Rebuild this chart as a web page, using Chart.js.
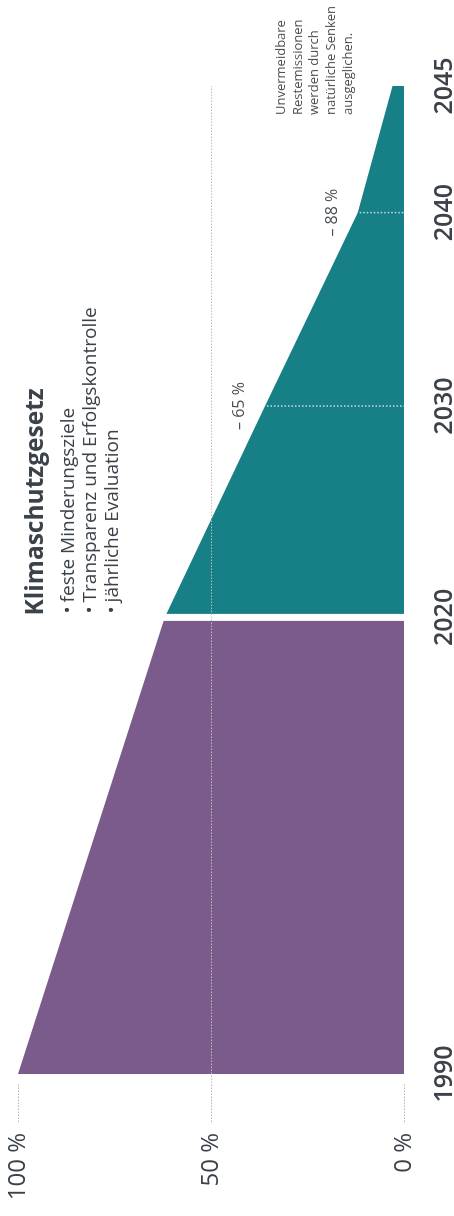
<!DOCTYPE html>
<html lang="de">
<head>
<meta charset="utf-8">
<title>Klimaschutzgesetz</title>
<script src="https://cdn.jsdelivr.net/npm/chart.js@4.4.1/dist/chart.umd.min.js"></script>
<style>
  html, body { margin: 0; padding: 0; background: #fff; overflow: hidden; }
  /* chart is drawn landscape, then turned to read bottom-to-top */
  #stage {
    position: absolute; left: 0; top: 0;
    width: 1216px; height: 454px;
    transform-origin: 0 0;
    transform: translate(0, 1216px) rotate(-90deg);
  }
</style>
</head>
<body>
<div id="stage"><canvas id="chart" width="1216" height="454"></canvas></div>
<script>
// ---- data ----
const yearTicks  = [1990, 2020, 2030, 2040, 2045];
const histYears  = [1990, 2020];
const histShare  = [100, 62];
const goalYears  = [2020, 2030, 2040, 2045];
const goalShare  = [62, 36, 12, 3];
const markYears  = [2030, 2040];
const markLabels = ['– 65 %', '– 88 %'];
const shareTicks = [0, 50, 100];

const title   = 'Klimaschutzgesetz';
const bullets = ['feste Minderungsziele', 'Transparenz und Erfolgskontrolle', 'jährliche Evaluation'];
const note    = ['Unvermeidbare', 'Restemissionen', 'werden durch', 'natürliche Senken', 'ausgeglichen.'];

// ---- layout ----
// the time axis is not to scale; fraction of plot width for each year tick
const yearStops = [0.009, 0.467, 0.679, 0.873, 1];

const PURPLE = '#7a5b8b';
const TEAL   = '#177f86';
const INK    = '#3b4249';
const FONT   = "'Open Sans', sans-serif";

Chart.defaults.font.family = FONT;
Chart.defaults.color = INK;

function warp(v) {
    for (let i = 0; i < yearTicks.length - 1; i++) {
        const a = yearTicks[i], b = yearTicks[i + 1];
        if (v <= b || i === yearTicks.length - 2) {
            return yearStops[i] + (v - a) / (b - a) * (yearStops[i + 1] - yearStops[i]);
        }
    }
}

/**
 * WarpScale
 * Linear scale with piecewise positions for the year ticks.
 */
class WarpScale extends Chart.LinearScale {
    static id = 'warp';
    getPixelForValue(value) {
        return this.getPixelForDecimal(warp(value));
    }
}
Chart.register(WarpScale);

const toPoints = (xs, ys) => xs.map((x, i) => ({ x, y: ys[i] }));

// white gap at 2020, dotted drops at the target years, texts
const decor = {
    id: 'decor',
    afterDatasetsDraw(chart) {
        const { ctx, scales: { x, y } } = chart;
        ctx.save();
        // gap between the two areas
        const gx = x.getPixelForValue(2020);
        ctx.fillStyle = '#fff';
        ctx.fillRect(gx - 3.5, chart.chartArea.top, 7, y.getPixelForValue(0) - chart.chartArea.top + 1);

        // drop lines
        ctx.strokeStyle = 'rgba(255,255,255,0.75)';
        ctx.lineWidth = 1.5;
        ctx.setLineDash([1.5, 2]);
        markYears.forEach(yr => {
            const px = x.getPixelForValue(yr);
            const i = goalYears.indexOf(yr);
            ctx.beginPath();
            ctx.moveTo(px, y.getPixelForValue(goalShare[i]) + 2);
            ctx.lineTo(px, y.getPixelForValue(0));
            ctx.stroke();
        });
        ctx.restore();
    },
    afterDraw(chart) {
        const { ctx, scales: { x, y } } = chart;
        ctx.save();
        ctx.textBaseline = 'alphabetic';

        // reduction labels above the target points
        ctx.font = '16px ' + FONT;
        ctx.textAlign = 'center';
        ctx.fillStyle = '#4a5055';
        markYears.forEach((yr, k) => {
            const i = goalYears.indexOf(yr);
            ctx.fillText(markLabels[k], x.getPixelForValue(yr), y.getPixelForValue(goalShare[i]) - 21);
        });

        // title block
        const tx = x.getPixelForValue(2020) + 2;
        ctx.textAlign = 'left';
        ctx.fillStyle = INK;
        ctx.font = 'bold 24.5px ' + FONT;
        ctx.fillText(title, tx, 43);
        ctx.font = '19px ' + FONT;
        bullets.forEach((b, i) => {
            ctx.fillText('•', tx + 2, 74 + i * 22);
            ctx.fillText(b, tx + 13, 74 + i * 22);
        });

        // note at the end
        ctx.font = '13px ' + FONT;
        ctx.fillStyle = '#4a5055';
        note.forEach((line, i) => {
            ctx.fillText(line, 1101, 285 + i * 16.7);
        });
        ctx.restore();
    }
};

new Chart(document.getElementById('chart'), {
    type: 'line',
    data: {
        datasets: [
            {
                data: toPoints(histYears, histShare),
                fill: 'origin',
                backgroundColor: PURPLE,
                borderWidth: 0,
                pointRadius: 0,
                tension: 0
            },
            {
                data: toPoints(goalYears, goalShare),
                fill: 'origin',
                backgroundColor: TEAL,
                borderWidth: 0,
                pointRadius: 0,
                tension: 0
            }
        ]
    },
    options: {
        responsive: false,
        animation: false,
        events: [],
        layout: { padding: { top: 18, right: 86, left: 0, bottom: 0 } },
        plugins: {
            legend: { display: false },
            tooltip: { enabled: false }
        },
        scales: {
            x: {
                type: 'warp',
                min: 1990,
                max: 2045,
                afterBuildTicks: s => { s.ticks = yearTicks.map(v => ({ value: v })); },
                afterFit: s => { s.height = 50; s.paddingLeft = 0; s.paddingRight = 0; },
                grid: { display: false },
                border: { display: false },
                ticks: {
                    autoSkip: false,
                    maxRotation: 0,
                    padding: 18,
                    color: INK,
                    font: { size: 25, weight: '600' },
                    callback: v => String(v)
                }
            },
            y: {
                min: 0,
                max: 100,
                afterBuildTicks: s => { s.ticks = shareTicks.map(v => ({ value: v })); },
                afterFit: s => { s.width = 133; s.paddingTop = 0; s.paddingBottom = 0; },
                border: { display: false, dash: [1.5, 1.5] },
                grid: {
                    z: 1,
                    color: c => (c.tick && c.tick.value === 50 ? '#bdbdbd' : 'rgba(0,0,0,0)'),
                    tickColor: '#b5b5b5',
                    tickLength: 39,
                    tickBorderDash: [1.5, 1.5],
                    lineWidth: 1
                },
                ticks: {
                    padding: 11,
                    color: INK,
                    font: { size: 24 },
                    callback: v => v + ' %'
                }
            }
        }
    },
    plugins: [decor]
});
</script>
</body>
</html>
